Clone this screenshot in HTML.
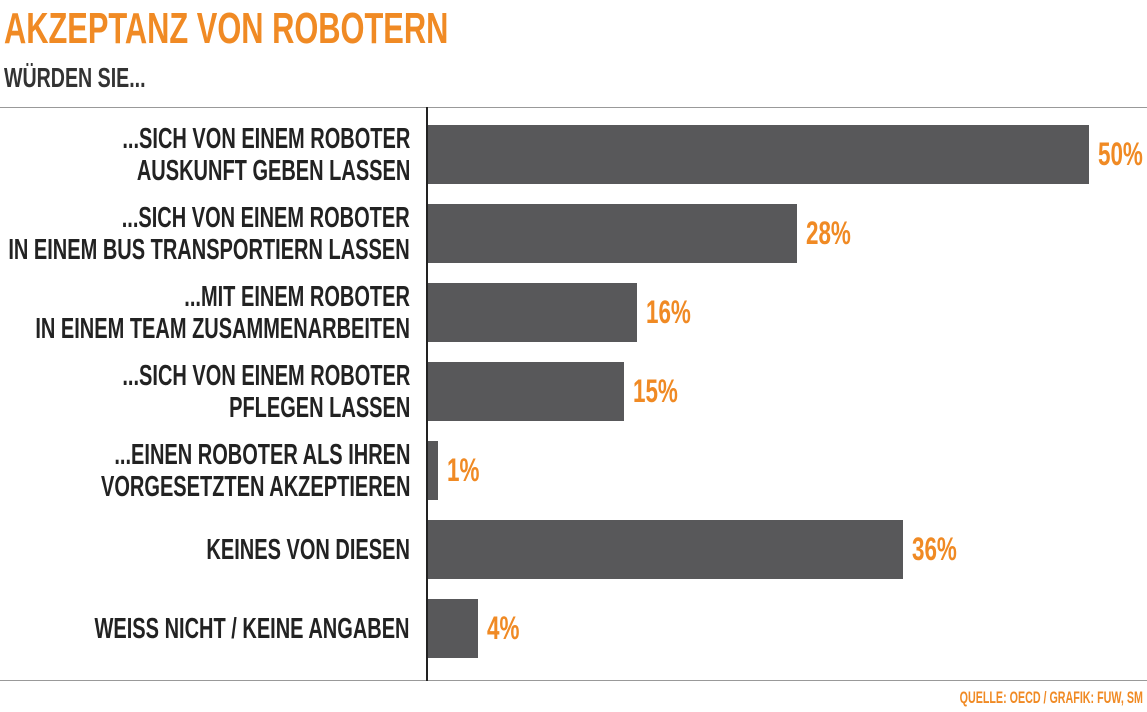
<!DOCTYPE html>
<html><head><meta charset="utf-8"><style>
body{margin:0;width:1147px;height:712px;background:#fff;overflow:hidden;position:relative;font-family:"Liberation Sans",sans-serif;font-weight:bold}
.t{position:absolute;white-space:nowrap;transform:scaleX(0.66);transform-origin:left top}
.r{transform-origin:right top;text-align:right}
</style></head><body>
<div class="t" style="left:4px;top:4px;font-size:44px;color:#f08a24;transform:scaleX(0.70)">AKZEPTANZ VON ROBOTERN</div>
<div class="t" style="left:4px;top:62px;font-size:28px;color:#333;transform:scaleX(0.70)">WÜRDEN SIE...</div>
<div style="position:absolute;left:0;top:107px;width:1147px;height:1px;background:#999"></div>
<div style="position:absolute;left:0;top:680px;width:1147px;height:1px;background:#999"></div>
<div style="position:absolute;left:426px;top:107px;width:2px;height:574px;background:#222"></div>
<div id="chart"></div>
<div class="t r" style="right:4px;top:688px;font-size:17px;color:#f08a24;transform:scaleX(0.63)">QUELLE: OECD / GRAFIK: FUW, SM</div>
<script>
const categories=[["...SICH VON EINEM ROBOTER","AUSKUNFT GEBEN LASSEN"],["...SICH VON EINEM ROBOTER","IN EINEM BUS TRANSPORTIERN LASSEN"],["...MIT EINEM ROBOTER","IN EINEM TEAM ZUSAMMENARBEITEN"],["...SICH VON EINEM ROBOTER","PFLEGEN LASSEN"],["...EINEN ROBOTER ALS IHREN","VORGESETZTEN AKZEPTIEREN"],["KEINES VON DIESEN"],["WEISS NICHT / KEINE ANGABEN"]];
const values=[50,28,16,15,1,36,4];
const x0=428,pxPer=13.28,top0=125,step=79,bh=59;
const xs=v=>v*pxPer-3, ys=i=>top0+i*step;
const c=document.getElementById('chart');
values.forEach((v,i)=>{
 const b=document.createElement('div');
 
 
 b.style.cssText=`position:absolute;left:${x0}px;top:${ys(i)}px;width:${xs(v)}px;height:${bh}px;background:#58585a`;
 c.appendChild(b);
 const l=document.createElement('div');
 
 
 l.className='t';
 l.style.cssText=`left:${x0+xs(v)+9}px;top:${ys(i)+11}px;font-size:32px;color:#f08a24;transform:scaleX(0.7)`;
 l.textContent=v+'%';
 c.appendChild(l);
 const lines=categories[i];
 const t=document.createElement('div');
 
 
 t.className='t r';
 const h=lines.length*32;
 t.style.cssText=`right:${1147-410}px;top:${ys(i)+bh/2-h/2}px;font-size:29px;line-height:32px;color:#222;transform:scaleX(0.69)`;
 t.innerHTML=lines.join('<br>');
 c.appendChild(t);
});
</script>
</body></html>
